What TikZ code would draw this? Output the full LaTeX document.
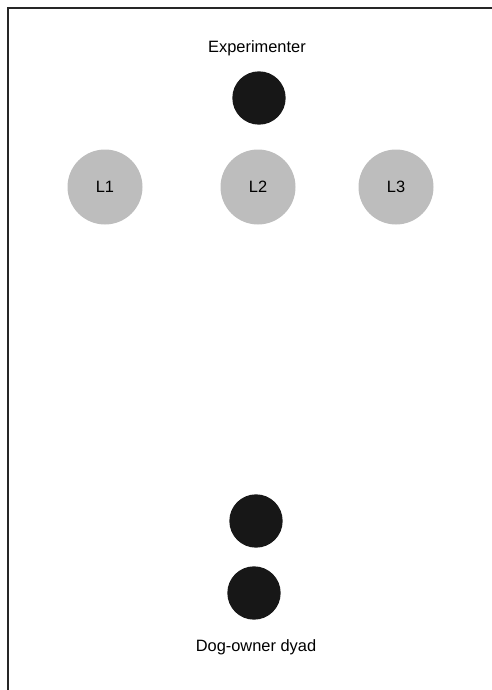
\documentclass[tikz,border=0pt]{standalone}
\usepackage{fontspec}
\setmainfont{Liberation Sans}
\definecolor{dotblack}{HTML}{171717}
\definecolor{lgrey}{HTML}{BDBDBD}
\begin{document}
\begin{tikzpicture}[font=\fontsize{14}{17}\selectfont,
  person/.style={circle,fill=dotblack,inner sep=0pt,minimum size=1.6cm},
  loc/.style={circle,fill=lgrey,inner sep=0pt,minimum size=2.25cm}]
\useasboundingbox (0,0) rectangle (14.76,-20.7);
\draw[black!85,line width=1.6pt] (0.24,-20.7) -- (0.24,-0.24) -- (14.76,-0.24);
\node (explabel) at (7.71,-1.44) {Experimenter};
\node[person] (exp) at (7.77,-2.94) {};
\node[loc] (l1) at (3.15,-5.61) {L1};
\node[loc] (l2) at (7.74,-5.61) {L2};
\node[loc] (l3) at (11.88,-5.61) {L3};
\node[person] (dog) at (7.68,-15.63) {};
\node[person] (owner) at (7.62,-17.79) {};
\node (dyadlabel) at (7.68,-19.41) {Dog-owner dyad};
\end{tikzpicture}
\end{document}
